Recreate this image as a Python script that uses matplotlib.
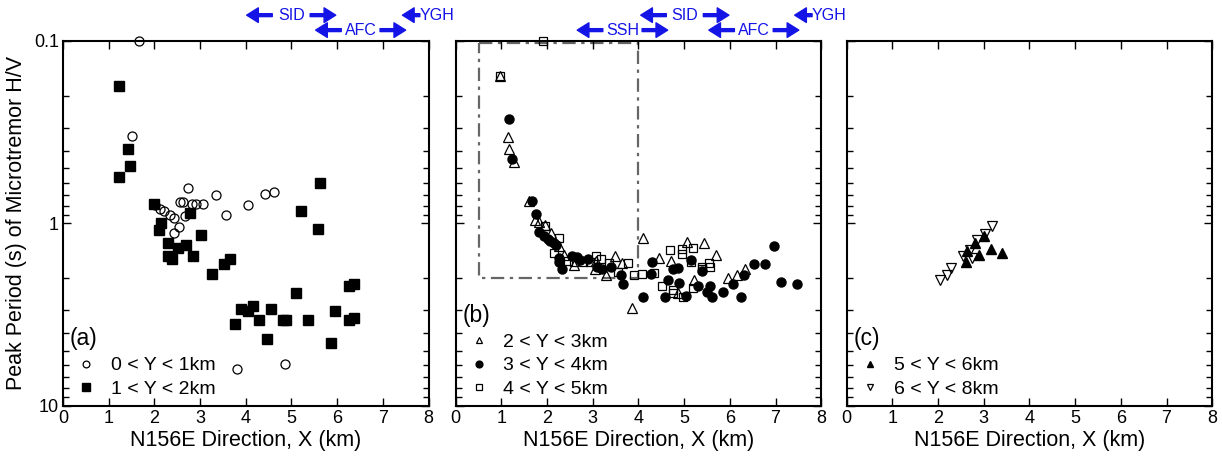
import matplotlib
matplotlib.use("Agg")
import matplotlib.pyplot as plt
from matplotlib.patches import Rectangle
from matplotlib.ticker import FixedLocator, NullFormatter

plt.rcParams['font.family'] = ['Liberation Sans', 'DejaVu Sans']

# panel (a)
a0_x = [1.66, 1.52, 2.74, 3.34, 2.56, 2.63, 2.83, 2.91, 3.07, 4.05, 4.43, 4.61,
        2.02, 2.13, 2.22, 2.34, 2.43, 2.67, 3.56, 2.54, 2.43, 3.81, 4.85]
a0_y = [0.100, 0.332, 0.638, 0.704, 0.764, 0.764, 0.785, 0.785, 0.785, 0.790, 0.690, 0.676,
        0.790, 0.834, 0.855, 0.904, 0.933, 0.914, 0.904, 1.055, 1.135, 6.3, 5.9]
a1_x = [1.22, 1.42, 1.46, 1.22, 5.62, 2.00, 2.78, 5.20, 5.58, 2.14, 2.10, 3.03, 2.30,
        2.51, 2.70, 2.30, 2.39, 2.85, 3.26, 3.52, 3.65, 6.25, 6.38, 5.11, 3.89, 4.04,
        4.15, 4.55, 4.29, 4.81, 4.88, 5.36, 3.77, 5.95, 6.25, 6.38, 4.46, 5.86]
a1_y = [0.178, 0.392, 0.486, 0.560, 0.604, 0.786, 0.879, 0.855, 1.07, 1.00, 1.09, 1.16, 1.28,
        1.36, 1.32, 1.51, 1.58, 1.51, 1.90, 1.67, 1.58, 2.21, 2.15, 2.41, 2.94, 3.04,
        2.83, 2.94, 3.40, 3.40, 3.40, 3.40, 3.56, 3.04, 3.40, 3.30, 4.30, 4.55]

# panel (b)
b0_x = [0.98, 1.14, 1.16, 1.27, 1.60, 1.74, 1.83, 1.96, 2.09, 2.26, 2.37, 2.59, 3.06,
        3.05, 3.30, 3.48, 3.63, 3.85, 4.10, 4.44, 4.71, 4.86, 5.06, 5.43, 5.22, 5.70,
        5.97, 6.15, 6.34]
b0_y = [0.157, 0.338, 0.392, 0.46, 0.753, 0.966, 0.99, 1.02, 1.13, 1.34, 1.50, 1.69, 1.62,
        1.78, 1.92, 1.51, 1.65, 2.92, 1.21, 1.55, 1.62, 2.41, 1.26, 1.29, 2.05, 1.50,
        2.00, 1.93, 1.78]
b1_x = [1.16, 1.24, 1.67, 1.76, 1.82, 1.93, 2.01, 2.07, 2.15, 2.20, 2.26, 2.26, 2.32,
        2.55, 2.66, 2.73, 2.90, 3.10, 3.21, 3.41, 3.61, 3.66, 4.29, 4.28, 4.11, 4.75,
        4.64, 4.58, 4.87, 4.89, 5.15, 5.04, 5.31, 5.39, 5.49, 5.57, 5.60, 5.86, 6.07,
        6.25, 6.30, 6.53, 6.76, 6.96, 7.13, 7.46]
b1_y = [0.27, 0.447, 0.76, 0.89, 1.12, 1.18, 1.22, 1.25, 1.28, 1.32, 1.55, 1.64, 1.78,
        1.51, 1.54, 1.60, 1.58, 1.73, 1.78, 1.73, 1.93, 2.15, 1.64, 1.89, 2.55, 1.79,
        2.05, 2.55, 1.75, 2.13, 1.60, 2.49, 2.20, 1.82, 2.38, 2.20, 2.55, 2.38, 2.15,
        2.55, 1.93, 1.67, 1.67, 1.34, 2.11, 2.15]
b2_x = [1.91, 0.98, 1.96, 2.26, 2.15, 2.46, 2.59, 2.78, 2.94, 3.08, 3.17, 3.35, 3.56,
        3.77, 3.90, 4.07, 4.34, 4.69, 4.51, 4.75, 4.75, 4.95, 4.95, 5.19, 5.16, 4.98,
        5.20, 5.39, 5.39, 5.55, 5.57]
b2_y = [0.100, 0.157, 1.03, 1.20, 1.46, 1.62, 1.64, 1.64, 1.64, 1.51, 1.57, 1.66, 1.86,
        1.65, 1.93, 1.90, 1.88, 1.41, 2.20, 2.33, 2.41, 1.39, 1.48, 1.36, 1.64, 2.55,
        2.27, 1.74, 1.79, 1.65, 1.74]

# panel (c)
c0_x = [2.61, 2.63, 2.80, 2.89, 3.00, 3.16, 3.39]
c0_y = [1.64, 1.42, 1.29, 1.50, 1.17, 1.39, 1.46]
c1_x = [2.04, 2.20, 2.28, 2.55, 2.70, 2.75, 2.85, 3.02, 3.18]
c1_y = [2.05, 1.92, 1.75, 1.51, 1.40, 1.56, 1.24, 1.14, 1.03]

# zone box in (b) and zone spans above the panels
box_x = [0.5, 4.0]
box_y = [0.103, 2.0]
spans_a = [("SID", 4.02, 5.97, 0), ("AFC", 5.53, 7.50, 1)]
spans_b = [("SID", 4.05, 5.98, 0), ("SSH", 2.66, 4.64, 1), ("AFC", 5.54, 7.51, 1)]
ygh_a = 7.43
ygh_b = 7.42

blue = '#1414e6'
W, H = 1222, 459
fig = plt.figure(figsize=(W / 100, H / 100), dpi=100)

lefts = [63, 455.7, 846.7]
axes = []
for l in lefts:
    ax = fig.add_axes([l / W, 1 - 405.7 / H, 365.5 / W, 365 / H])
    axes.append(ax)


def style(ax, ylabels):
    ax.set_yscale('log')
    ax.set_ylim(10, 0.1)
    ax.set_xlim(0, 8)
    ax.set_xticks(range(0, 9))
    ax.yaxis.set_major_locator(FixedLocator([0.1, 1, 10]))
    ax.yaxis.set_minor_locator(FixedLocator([k * 10.0 ** e for e in (-1, 0) for k in range(2, 10)]))
    ax.yaxis.set_minor_formatter(NullFormatter())
    if ylabels:
        ax.set_yticklabels(['0.1', '1', '10'])
    else:
        ax.set_yticklabels([])
    ax.tick_params(which='both', direction='in', top=True, right=True, labelsize=13, width=1)
    ax.tick_params(which='major', length=6, pad=3)
    ax.tick_params(which='minor', length=4)
    for s in ax.spines.values():
        s.set_linewidth(1.5)
    ax.set_xlabel('N156E Direction, X (km)', fontsize=15.5, labelpad=2)


def arrow(ax, x0, x1, yy):
    ax.annotate('', xy=(x1, yy), xytext=(x0, yy), xycoords=ax.get_xaxis_transform(),
                annotation_clip=False,
                arrowprops=dict(arrowstyle='simple,head_width=0.75,head_length=0.6,tail_width=0.15',
                                color=blue, mutation_scale=14, shrinkA=0, shrinkB=0))


def span(ax, label, x0, x1, row):
    yy = 1.070 if row == 0 else 1.029
    xc = (x0 + x1) / 2
    ax.text(xc, yy, label, transform=ax.get_xaxis_transform(), color=blue,
            fontsize=11.5, ha='center', va='center', clip_on=False)
    arrow(ax, x0 + 0.56, x0, yy)
    arrow(ax, x1 - 0.56, x1, yy)


def ygh(ax, x0):
    yy = 1.070
    arrow(ax, x0 + 0.38, x0, yy)
    ax.text(x0 + 0.38, yy, 'YGH', transform=ax.get_xaxis_transform(), color=blue,
            fontsize=11.5, ha='left', va='center', clip_on=False)


for ax in axes:
    style(ax, ax is axes[0])

open_kw = dict(mfc='none', mec='black', mew=0.9, ls='none', clip_on=False)
fill_kw = dict(mfc='black', mec='black', ls='none', clip_on=False)

ax = axes[0]
ax.plot(a0_x, a0_y, 'o', ms=6.5, label='0 < Y < 1km', **open_kw)
ax.plot(a1_x, a1_y, 's', ms=7, label='1 < Y < 2km', **fill_kw)
ax.set_ylabel('Peak Period (s) of Microtremor H/V', fontsize=15.5, labelpad=5)
for s in spans_a:
    span(ax, *s)
ygh(ax, ygh_a)

ax = axes[1]
ax.add_patch(Rectangle((box_x[0], box_y[0]), box_x[1] - box_x[0], box_y[1] - box_y[0],
                       fill=False, ec='#666666', lw=1.6, ls=(0, (6, 2.5, 1.5, 2.5))))
ax.plot(b0_x, b0_y, '^', ms=6.5, label='2 < Y < 3km', **open_kw)
ax.plot(b1_x, b1_y, 'o', ms=6.5, label='3 < Y < 4km', **fill_kw)
ax.plot(b2_x, b2_y, 's', ms=6, label='4 < Y < 5km', **open_kw)
for s in spans_b:
    span(ax, *s)
ygh(ax, ygh_b)

ax = axes[2]
ax.plot(c0_x, c0_y, '^', ms=6.5, label='5 < Y < 6km', **fill_kw)
ax.plot(c1_x, c1_y, 'v', ms=6.5, label='6 < Y < 8km', **open_kw)

for ax, lab in zip(axes, ['(a)', '(b)', '(c)']):
    leg = ax.legend(loc='lower left', bbox_to_anchor=(0.016, 0.0), frameon=False,
                    fontsize=14, handlelength=1.0, handletextpad=0.75, labelspacing=0.3,
                    borderaxespad=0.0, markerscale=0.75)
    n = len(leg.get_texts())
    ytxt = (19 + 22.7 * (n - 1) + 26) / 365
    ax.text(0.018, ytxt, lab, transform=ax.transAxes, fontsize=16.5, ha='left', va='center')

fig.savefig('out.png', dpi=100)
